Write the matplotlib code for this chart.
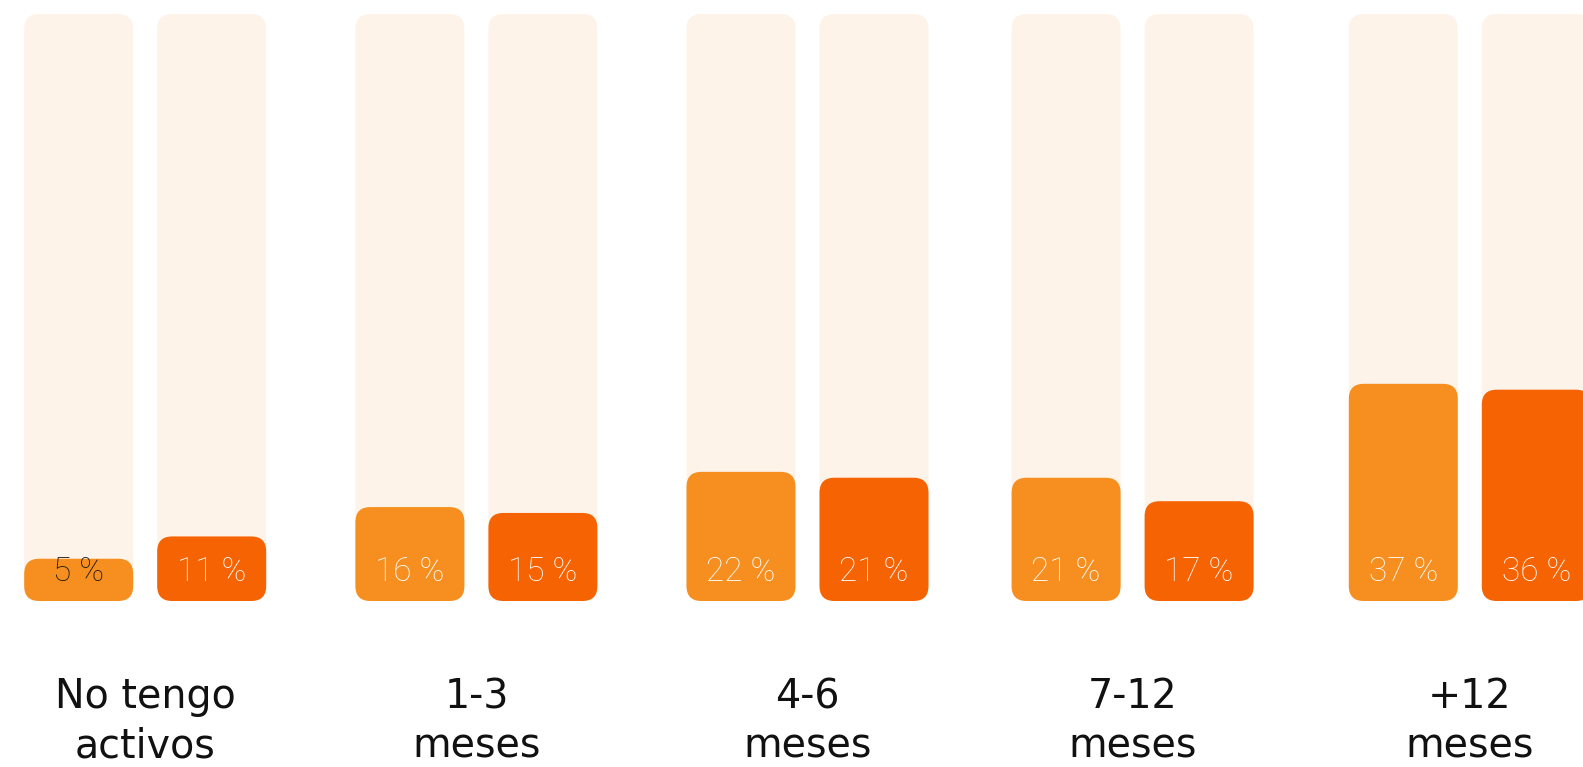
import matplotlib as mpl
mpl.use("Agg")
import matplotlib.pyplot as plt
from matplotlib.patches import FancyBboxPatch

# ---- data: share of respondents per horizon, two series side by side ----
categories = ["No tengo\nactivos", "1-3\nmeses", "4-6\nmeses", "7-12\nmeses", "+12\nmeses"]
serie_a = [5, 16, 22, 21, 37]
serie_b = [11, 15, 21, 17, 36]

TRACK = "#FDF3E9"
COL_A = "#F68F1F"
COL_B = "#F56302"

W, H, DPI = 1583, 767, 100
PPU = 5.87                     # pixels per percentage point, same on both axes
BASE = 601                     # pixel row of the bar bottoms (from top)
bar_w = 109 / PPU
gap = 24 / PPU
group_left = [24.2, 355.4, 686.5, 1011.6, 1348.8]   # left edge of each pair, px
rad = 15 / PPU
min_h = 7.2                    # keep the rounded box readable for tiny values

fig = plt.figure(figsize=(W / DPI, H / DPI), dpi=DPI)
ax = fig.add_axes([0, 0, 1, 1])
ax.set_xlim(0, W / PPU)
ax.set_ylim(-(H - BASE) / PPU, BASE / PPU)
ax.axis("off")


def rounded(x, h, color):
    ax.add_patch(FancyBboxPatch((x, 0), bar_w, h, boxstyle=f"round,pad=0,rounding_size={rad}",
                                facecolor=color, edgecolor="none", linewidth=0))


for cat, a, b, gl in zip(categories, serie_a, serie_b, group_left):
    xa = gl / PPU
    xb = xa + bar_w + gap
    for x, v, c in ((xa, a, COL_A), (xb, b, COL_B)):
        rounded(x, 100, TRACK)
        rounded(x, max(v, min_h), c)
        ax.text(x + bar_w / 2, 20 / PPU, f"{v} %", ha="center", va="baseline",
                fontsize=24, family=["Roboto", "DejaVu Sans"], fontweight="light",
                color="#1A1A1A" if v < 10 else "white")
    # va="baseline" pins the last line, so y is the baseline of the second row
    ax.text(xa + bar_w + gap / 2, -156 / PPU, cat, ha="center", va="baseline",
            fontsize=28.5, color="#111111", linespacing=1.29)

fig.savefig("out.png", dpi=DPI)
